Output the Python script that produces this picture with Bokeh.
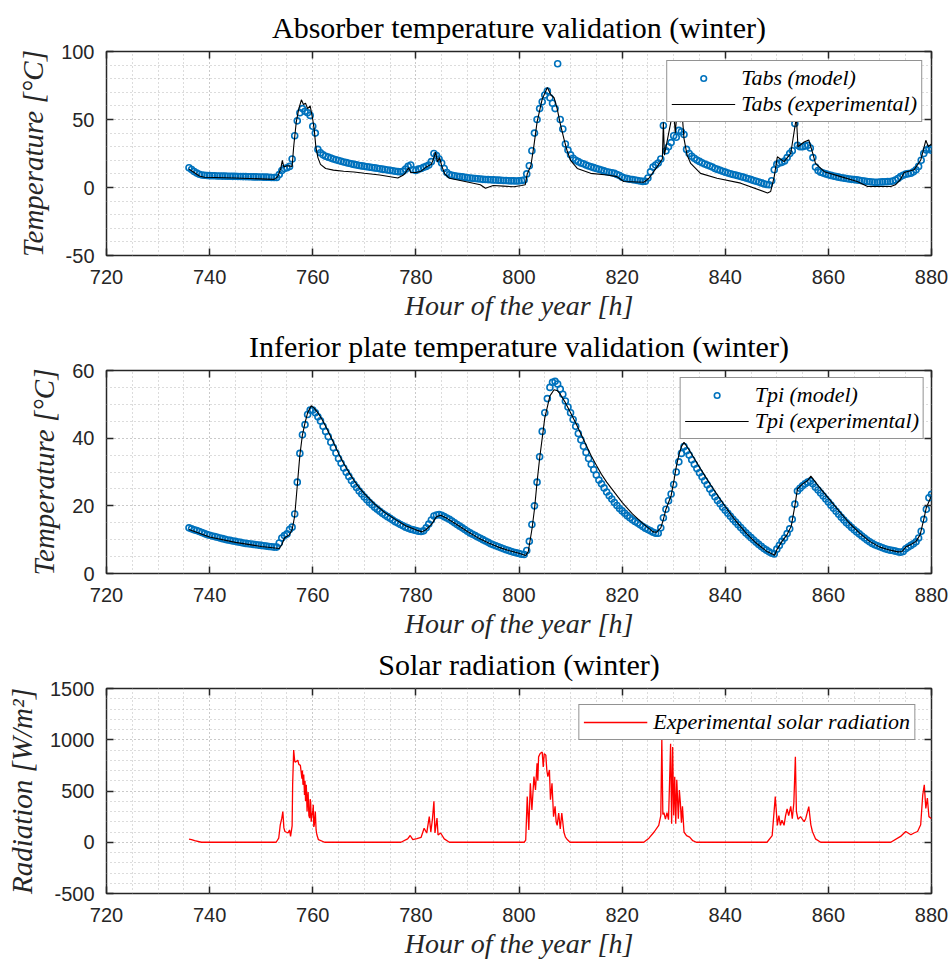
import numpy as np
from bokeh.plotting import figure
from bokeh.layouts import column
from bokeh.models import (SingleIntervalTicker, LinearAxis, Legend, LegendItem,
                          Range1d, Title, PrintfTickFormatter)
from bokeh.embed import file_html
from bokeh.resources import INLINE

# ---------------------------------------------------------------------------
# Data
# ---------------------------------------------------------------------------
# Model output is sampled every half hour starting at hour 736
model_start = 736.0
model_step = 0.5

# Absorber temperature, model [degC]
tabs_model = [
    14.5, 13.2, 11.8, 10.6, 9.7, 9.2, 9.0, 8.8,                      # 736
    8.7, 8.6, 8.6, 8.5, 8.5, 8.4, 8.4, 8.3, 8.3, 8.2,                # 740
    8.2, 8.1, 8.1, 8.0, 8.0, 7.9, 7.9, 7.8, 7.8, 7.7,                # 745
    7.7, 7.6, 7.6, 7.5, 7.4, 7.3, 7.4, 9.5, 12.5, 14.0, 14.5, 15.5,  # 750
    21.0, 38.0, 49.0, 55.0, 58.0, 56.0, 55.0, 53.0, 45.0, 40.0, 28.0, 25.5,  # 756
    24.0, 23.0, 22.3, 21.6, 21.0, 20.4, 19.8, 19.3, 18.8, 18.3, 17.8, 17.4,  # 762
    17.0, 16.6, 16.2, 15.9, 15.6, 15.3, 15.0, 14.7, 14.4, 14.1, 13.8, 13.5,  # 768
    13.2, 12.9, 12.6, 12.3, 12.0, 11.7, 11.5, 12.0, 13.5, 15.5, 16.5, 13.0,  # 774
    12.5, 13.5, 14.0, 14.8, 15.5, 16.5, 19.0, 25.0, 23.5, 21.0, 18.0, 14.0,  # 780
    11.0, 9.5, 9.0, 8.6, 8.3, 8.0, 7.8, 7.5, 7.2, 7.0, 6.8, 6.6,             # 786
    6.4, 6.2, 6.0, 5.9, 5.8, 5.7, 5.6, 5.5, 5.4, 5.3, 5.2, 5.1,              # 792
    5.0, 4.9, 4.9, 4.8, 4.9, 5.2, 5.5, 10.0, 16.0, 27.0, 40.0, 50.0,         # 798
    58.0, 63.0, 68.0, 71.0, 66.0, 62.0, 58.0, 91.0, 50.0, 43.0, 32.0, 27.5,  # 804
    24.0, 21.5, 20.0, 19.0, 18.0, 17.5, 16.5, 15.8, 15.2, 14.6, 14.0, 13.4,  # 810
    12.8, 12.2, 11.6, 11.2, 10.8, 10.4, 9.6, 8.8, 7.6, 7.0, 6.5, 6.1,        # 816
    5.8, 5.5, 5.1, 4.8, 4.5, 4.6, 7.0, 11.5, 15.0, 16.5, 18.0, 21.0,         # 822
    45.6, 27.0, 30.0, 33.0, 38.0, 37.0, 42.0, 41.0, 39.0, 28.0, 25.0, 23.0,  # 828
    21.5, 20.2, 19.2, 18.2, 17.3, 16.5, 15.8, 15.1, 14.0, 13.3, 12.6, 11.9,  # 834
    11.3, 10.7, 10.1, 9.6, 9.1, 8.6, 8.1, 7.6, 7.0, 6.4, 5.8, 5.2,           # 840
    4.6, 4.0, 3.4, 2.8, 2.2, 2.0, 5.0, 13.0, 17.0, 18.0, 18.5, 19.5,         # 846
    22.0, 25.0, 27.0, 47.0, 31.0, 30.0, 30.0, 30.5, 31.0, 29.0, 22.0, 15.0,  # 852
    12.5, 11.3, 10.6, 10.0, 9.4, 8.9, 8.4, 8.0, 7.6, 7.2, 6.9, 6.6,          # 858
    6.3, 6.0, 5.8, 5.6, 5.3, 5.0, 4.7, 4.4, 4.2, 4.0, 3.9, 3.9,              # 864
    4.0, 4.1, 4.2, 4.3, 4.4, 4.8, 5.5, 6.6, 8.0, 9.0, 9.8, 10.2,             # 870
    10.5, 11.5, 13.0, 15.5, 20.0, 25.0, 27.5, 28.6, 27.4,                    # 876
]

# Absorber temperature, measured (hour, degC)
tabs_exp_points = [
    (736.0, 13.5), (737.0, 11.0), (738.0, 8.5), (739.0, 7.5), (745.0, 7.0),
    (752.5, 6.0), (753.2, 8.0), (753.8, 14.0), (754.1, 20.0), (754.4, 15.0),
    (755.0, 16.0), (756.0, 15.5), (756.3, 30.0), (756.8, 48.0), (757.3, 58.0),
    (757.8, 64.5), (758.2, 61.0), (758.6, 62.0), (759.0, 58.0), (759.5, 60.0),
    (760.0, 50.0), (760.3, 42.0), (760.6, 30.0), (761.0, 22.0), (761.5, 17.0),
    (762.5, 14.0), (764.0, 12.8), (766.0, 12.0), (768.0, 11.4), (770.0, 10.5),
    (773.0, 9.2), (776.5, 7.0), (777.5, 9.0), (778.0, 11.0), (778.6, 14.5),
    (779.0, 11.0), (780.0, 11.0), (781.0, 12.0), (782.0, 15.0), (783.0, 17.0),
    (783.5, 22.0), (783.8, 26.0), (784.2, 19.0), (784.6, 22.0), (785.0, 16.0),
    (785.6, 10.0), (786.5, 6.8), (790.0, 4.0), (792.5, 2.0), (793.5, -0.5),
    (795.0, 1.5), (797.0, 1.0), (799.0, 0.5), (800.5, 1.5), (801.2, 2.0),
    (801.6, 10.0), (802.3, 16.0), (802.9, 31.0), (803.5, 48.0), (804.5, 65.0),
    (805.5, 73.5), (806.2, 68.0), (806.8, 66.0), (807.4, 58.0), (808.0, 47.0),
    (808.7, 36.0), (809.3, 27.4), (810.0, 20.0), (811.3, 14.0), (813.9, 10.4),
    (817.1, 9.2), (819.0, 8.0), (820.3, 4.4), (824.2, 3.9), (825.2, 6.8),
    (826.8, 15.3), (827.8, 21.0), (828.0, 48.0), (828.2, 23.8), (828.7, 33.5),
    (829.7, 53.0), (830.0, 57.0), (830.3, 40.0), (830.7, 58.0), (831.3, 48.0),
    (831.6, 56.0), (832.0, 36.0), (832.6, 23.8), (833.3, 17.7), (835.2, 10.4),
    (838.4, 6.8), (843.0, 3.2), (848.2, -4.0), (848.8, -3.0), (849.5, 8.0),
    (850.1, 22.6), (851.4, 19.0), (852.7, 25.0), (853.8, 51.7), (854.1, 30.0),
    (855.3, 33.5), (856.2, 35.0), (856.9, 26.0), (857.5, 17.7), (859.2, 11.6),
    (862.4, 8.0), (865.6, 4.4), (867.6, 0.7), (872.1, 0.7), (873.0, 2.0),
    (874.0, 6.0), (874.7, 11.0), (876.6, 13.0), (877.9, 20.0), (878.9, 34.7),
    (879.4, 30.0), (880.0, 32.0),
]

# Inferior plate temperature, model [degC]
tpi_model = [
    13.5, 13.2, 12.9, 12.7, 12.4, 12.1, 11.8, 11.5,                  # 736
    11.3, 11.1, 10.9, 10.7, 10.5, 10.3, 10.1, 9.9, 9.8, 9.6,         # 740
    9.5, 9.3, 9.2, 9.0, 8.9, 8.8, 8.7, 8.6, 8.5, 8.4,                # 745
    8.3, 8.2, 8.1, 8.0, 7.9, 7.8, 7.8, 9.0, 10.5, 11.2, 11.7, 13.0,  # 750
    13.7, 17.6, 27.0, 35.5, 41.0, 44.0, 47.0, 48.3, 48.3, 47.5, 46.3, 45.1,  # 756
    43.5, 42.0, 40.5, 38.8, 37.2, 35.6, 34.0, 32.6, 31.2, 29.9, 28.7, 27.5,  # 762
    26.4, 25.4, 24.4, 23.5, 22.6, 21.8, 21.0, 20.3, 19.6, 19.0, 18.4, 17.8,  # 768
    17.3, 16.8, 16.3, 15.8, 15.3, 14.9, 14.5, 14.1, 13.7, 13.4, 13.1, 12.9,  # 774
    12.7, 12.5, 12.4, 12.6, 13.5, 14.6, 15.8, 17.0, 17.3, 17.4, 17.2, 16.8,  # 780
    16.4, 16.0, 15.5, 15.0, 14.5, 14.0, 13.5, 13.0, 12.5, 12.0, 11.6, 11.2,  # 786
    10.8, 10.4, 10.0, 9.6, 9.2, 8.8, 8.5, 8.2, 7.9, 7.6, 7.3, 7.0,           # 792
    6.8, 6.5, 6.3, 6.1, 5.9, 5.7, 5.6, 6.8, 9.5, 14.5, 20.0, 27.0,           # 798
    34.5, 42.0, 47.5, 51.7, 55.0, 56.5, 56.8, 56.0, 54.5, 53.0, 51.0, 49.2,  # 804
    47.5, 45.5, 43.5, 41.4, 39.5, 37.6, 35.8, 34.0, 32.3, 30.7, 29.1, 27.6,  # 810
    26.5, 25.3, 24.1, 23.0, 22.0, 21.0, 20.1, 19.2, 18.5, 17.8, 17.1, 16.5,  # 816
    15.9, 15.4, 14.9, 14.4, 13.9, 13.4, 13.0, 12.6, 12.2, 11.9, 11.9, 13.5,  # 822
    16.5, 19.0, 21.5, 23.5, 26.3, 30.0, 33.0, 35.5, 37.5, 36.3, 35.0, 33.6,  # 828
    32.3, 31.0, 29.8, 28.6, 27.4, 26.2, 25.0, 23.8, 22.7, 21.6, 20.6, 19.6,  # 834
    18.7, 17.8, 16.9, 16.0, 15.2, 14.4, 13.6, 12.8, 12.0, 11.3, 10.6, 9.9,   # 840
    9.2, 8.6, 8.0, 7.4, 6.9, 6.4, 6.0, 5.8, 7.2, 8.3, 9.5, 10.5,             # 846
    11.8, 13.2, 16.0, 20.5, 24.4, 25.2, 25.9, 26.5, 27.0, 27.3, 26.5, 25.5,  # 852
    24.7, 23.8, 22.9, 22.0, 21.1, 20.2, 19.3, 18.4, 17.5, 16.6, 15.8, 15.0,  # 858
    14.3, 13.6, 12.9, 12.3, 11.7, 11.1, 10.5, 9.9, 9.4, 8.9, 8.5, 8.2,       # 864
    7.9, 7.6, 7.3, 7.1, 6.9, 6.8, 6.6, 6.4, 6.3, 6.5, 7.3, 7.8,              # 870
    8.3, 8.8, 9.4, 10.5, 12.5, 16.0, 19.0, 22.4, 23.4,                       # 876
]

# Inferior plate temperature, measured (hour, degC)
tpi_exp_points = [
    (736.0, 13.0), (740.0, 10.8), (745.0, 9.2), (750.0, 8.0), (753.5, 7.4),
    (754.0, 8.5), (754.5, 10.5), (755.5, 11.5), (756.0, 13.0), (756.5, 17.0),
    (757.0, 26.0), (757.5, 35.0), (758.0, 41.0), (758.5, 44.5), (759.0, 47.5),
    (759.7, 49.6), (760.3, 48.8), (761.0, 47.5), (762.0, 45.0), (763.0, 42.0),
    (764.0, 38.8), (765.0, 35.5), (766.0, 32.5), (767.0, 29.9), (768.0, 27.5),
    (769.0, 25.4), (770.0, 23.6), (772.0, 20.5), (774.0, 18.0), (776.0, 16.0),
    (778.0, 14.1), (780.0, 12.9), (781.2, 12.3), (782.0, 13.0), (783.0, 14.5),
    (784.0, 16.8), (784.8, 17.2), (786.0, 16.3), (788.0, 14.4), (790.0, 12.4),
    (792.0, 10.6), (794.0, 9.1), (796.0, 7.8), (798.0, 6.8), (800.0, 6.0),
    (801.3, 5.3), (801.8, 6.5), (802.5, 13.0), (803.0, 19.0), (803.5, 27.0),
    (804.0, 34.0), (805.0, 46.0), (806.0, 52.5), (806.8, 54.3), (807.5, 54.0),
    (808.0, 53.0), (809.0, 50.5), (810.0, 47.5), (811.0, 44.5), (812.0, 41.3),
    (813.0, 38.0), (814.0, 34.8), (815.0, 32.0), (816.0, 29.3), (817.0, 27.0),
    (818.0, 25.0), (819.0, 23.0), (820.0, 21.0), (822.0, 17.6), (824.0, 14.8),
    (826.0, 12.3), (826.7, 12.2), (827.5, 13.5), (828.0, 16.0), (828.5, 19.0),
    (829.0, 21.0), (829.5, 23.0), (830.0, 27.0), (830.5, 31.5), (831.0, 35.0),
    (831.5, 37.5), (832.0, 38.8), (833.0, 36.5), (834.0, 34.0), (835.0, 31.5),
    (836.0, 29.0), (837.0, 26.6), (838.0, 24.3), (839.0, 22.0), (840.0, 19.8),
    (842.0, 15.6), (844.0, 12.0), (846.0, 9.0), (848.0, 6.6), (849.6, 5.4),
    (850.0, 7.0), (851.0, 9.5), (852.0, 11.5), (852.8, 14.0), (853.5, 20.0),
    (854.0, 25.0), (855.0, 26.5), (856.0, 27.5), (856.6, 28.8), (857.5, 27.0),
    (858.0, 26.0), (860.0, 22.3), (862.0, 18.6), (864.0, 15.0), (866.0, 12.0),
    (868.0, 9.5), (870.0, 7.8), (872.0, 6.9), (873.5, 6.4), (874.3, 6.5),
    (875.0, 7.8), (876.0, 8.6), (877.0, 9.5), (877.8, 11.5), (878.5, 16.0),
    (879.0, 19.5), (880.0, 23.0),
]

# Measured solar radiation (hour, W/m2)
rad_points = [
    (736.0, 30), (736.5, 25), (737.1, 15), (738.4, 0), (752.9, 0), (753.4, 40),
    (753.7, 170), (754.0, 235), (754.2, 300), (754.4, 140), (754.6, 105),
    (755.2, 90), (755.5, 120), (755.7, 57), (756.0, 160), (756.1, 560),
    (756.3, 900), (756.5, 790), (756.6, 780), (757.1, 800), (757.3, 760),
    (757.6, 750), (757.9, 620), (758.0, 700), (758.1, 560), (758.25, 660),
    (758.4, 460), (758.5, 600), (758.6, 400), (758.75, 560), (758.9, 300),
    (759.0, 420), (759.1, 490), (759.25, 260), (759.4, 235), (759.5, 420),
    (759.6, 390), (759.7, 200), (759.8, 250), (760.0, 300), (760.1, 365),
    (760.2, 150), (760.3, 170), (760.5, 300), (760.65, 120), (760.8, 73),
    (761.1, 25), (762.3, 0), (777.1, 0), (778.4, 33), (778.9, 66), (779.4, 25),
    (780.2, 35), (781.0, 47), (781.6, 137), (782.1, 90), (782.6, 250),
    (782.9, 100), (783.2, 220), (783.5, 400), (783.7, 90), (784.1, 235),
    (784.3, 70), (784.8, 90), (785.5, 33), (786.5, 0), (801.0, 0), (801.3, 20),
    (801.6, 445), (801.9, 120), (802.2, 575), (802.5, 315), (802.9, 640),
    (803.2, 510), (803.5, 770), (803.65, 600), (803.8, 833), (804.1, 865),
    (804.5, 880), (804.7, 735), (804.9, 865), (805.2, 850), (805.4, 700),
    (805.6, 640), (805.9, 705), (806.1, 415), (806.4, 575), (806.7, 250),
    (807.0, 350), (807.2, 200), (807.4, 165), (807.7, 285), (808.0, 130),
    (808.3, 285), (808.7, 100), (809.0, 50), (809.3, 30), (809.9, 0),
    (824.2, 0), (825.2, 40), (826.2, 100), (827.1, 165), (827.5, 260),
    (827.7, 1010), (827.9, 270), (828.1, 290), (828.4, 225), (828.7, 290),
    (829.0, 220), (829.4, 960), (829.6, 180), (829.8, 930), (830.0, 260),
    (830.2, 640), (830.4, 180), (830.6, 610), (830.9, 230), (831.1, 510),
    (831.3, 380), (831.5, 190), (831.7, 350), (832.0, 100), (832.5, 65),
    (833.1, 50), (833.7, 15), (834.4, 0), (848.1, 0), (849.1, 65), (849.7, 445),
    (850.1, 165), (850.4, 260), (850.7, 165), (851.0, 215), (851.4, 165),
    (851.7, 260), (852.0, 325), (852.3, 260), (852.7, 350), (853.0, 230),
    (853.3, 380), (853.6, 835), (853.8, 300), (854.1, 225), (854.6, 250),
    (855.3, 200), (855.6, 230), (856.2, 348), (856.6, 170), (856.9, 105),
    (857.5, 33), (858.5, 0), (872.1, 0), (874.0, 57), (875.0, 105), (876.0, 73),
    (876.6, 90), (877.3, 105), (877.9, 170), (878.3, 460), (878.6, 560),
    (878.9, 330), (879.2, 430), (879.5, 250), (879.9, 235), (880.0, 230),
]

# Axis limits and tick spacing
x_limits = (720, 880)
x_tick_step = 20
tabs_limits = (-50, 100)
tabs_tick_step = 50
tpi_limits = (0, 60)
tpi_tick_step = 20
rad_limits = (-500, 1500)
rad_tick_step = 500

# ---------------------------------------------------------------------------
# Styling helpers
# ---------------------------------------------------------------------------
BLUE = "#0072BD"
RED = "#FF0000"
AXIS = "#262626"
GRID = "#b9b9b9"
SERIF = "Liberation Serif"
SANS = "Liberation Sans"
X_LABEL = "Hour of the year [h]"


def make_panel(title, ylabel, ylim, ystep, yminor, height, top, bottom):
    p = figure(width=948, height=height, output_backend="svg",
               toolbar_location=None, title=None,
               x_range=Range1d(*x_limits), y_range=Range1d(*ylim),
               min_border_left=106, min_border_right=17,
               min_border_top=top, min_border_bottom=bottom)
    p.background_fill_color = "white"
    p.border_fill_color = "white"
    p.outline_line_color = AXIS
    p.outline_line_width = 1.5

    xt = SingleIntervalTicker(interval=x_tick_step, num_minor_ticks=4)
    yt = SingleIntervalTicker(interval=ystep, num_minor_ticks=yminor)
    p.xaxis.ticker = xt
    p.yaxis.ticker = yt
    p.yaxis.formatter = PrintfTickFormatter(format="%d")
    p.xgrid.ticker = xt
    p.ygrid.ticker = yt
    for g in (p.xgrid, p.ygrid):
        g.grid_line_color = GRID
        g.grid_line_dash = "1 3"
        g.grid_line_width = 1
        g.minor_grid_line_color = GRID
        g.minor_grid_line_dash = "1 3"
        g.minor_grid_line_width = 1

    for ax in (p.xaxis, p.yaxis):
        ax.axis_line_color = None
        ax.major_tick_in = 7
        ax.major_tick_out = 0
        ax.major_tick_line_color = AXIS
        ax.major_tick_line_width = 1.5
        ax.minor_tick_line_color = None
        ax.major_label_text_font = SANS
        ax.major_label_text_font_size = "20px"
        ax.major_label_text_color = AXIS
        ax.axis_label_text_font = SERIF
        ax.axis_label_text_font_style = "italic"
        ax.axis_label_text_color = AXIS
    p.xaxis.axis_label_text_font_size = "28px"
    p.yaxis.axis_label_text_font_size = "29px"
    p.xaxis.axis_label = X_LABEL
    p.yaxis.axis_label = ylabel
    p.xaxis.major_label_standoff = 10
    p.xaxis.axis_label_standoff = 3
    p.yaxis.major_label_standoff = 8
    p.yaxis.axis_label_standoff = 9

    # tick marks on the opposite sides of the box, without labels
    for loc, tk in (("right", yt), ("above", xt)):
        ax = LinearAxis(ticker=tk)
        ax.axis_line_color = None
        ax.major_tick_in = 7
        ax.major_tick_out = 0
        ax.major_tick_line_color = AXIS
        ax.major_tick_line_width = 1.5
        ax.minor_tick_line_color = None
        ax.major_label_text_font_size = "1px"
        ax.major_label_text_color = None
        ax.major_label_standoff = 0
        p.add_layout(ax, loc)

    p.add_layout(Title(text=title, align="center", text_font=SERIF,
                       text_font_size="30px", text_font_style="normal",
                       text_color="black", standoff=8), "above")
    return p


def make_legend(items, margin):
    lg = Legend(items=items, location="top_right", margin=margin,
                label_text_font=SERIF, label_text_font_style="italic",
                label_text_font_size="22px", label_text_color="black",
                glyph_width=64, glyph_height=14, label_standoff=6,
                label_height=24, padding=4, spacing=0,
                border_line_color=AXIS, border_line_width=1,
                background_fill_color="white", background_fill_alpha=1.0)
    return lg


# ---------------------------------------------------------------------------
# Absorber temperature
# ---------------------------------------------------------------------------
tabs_hours = model_start + model_step * np.arange(len(tabs_model))
p1 = make_panel("Absorber temperature validation (winter)", "Temperature [°C]",
                tabs_limits, tabs_tick_step, 5, 323, 51, 66)
r1m = p1.scatter(tabs_hours, tabs_model, marker="circle", size=6,
                 fill_color=None, line_color=BLUE, line_width=1.6)
r1e = p1.line([h for h, _ in tabs_exp_points], [v for _, v in tabs_exp_points],
              line_color="black", line_width=1.1)
p1.add_layout(make_legend([LegendItem(label="Tabs (model)", renderers=[r1m]),
                           LegendItem(label="Tabs (experimental)", renderers=[r1e])], 9))

# ---------------------------------------------------------------------------
# Inferior plate temperature
# ---------------------------------------------------------------------------
tpi_hours = model_start + model_step * np.arange(len(tpi_model))
p2 = make_panel("Inferior plate temperature validation (winter)", "Temperature [°C]",
                tpi_limits, tpi_tick_step, 4, 318, 47, 66)
r2m = p2.scatter(tpi_hours, tpi_model, marker="circle", size=6,
                 fill_color=None, line_color=BLUE, line_width=1.6)
r2e = p2.line([h for h, _ in tpi_exp_points], [v for _, v in tpi_exp_points],
              line_color="black", line_width=1.1)
p2.add_layout(make_legend([LegendItem(label="Tpi (model)", renderers=[r2m]),
                           LegendItem(label="Tpi (experimental)", renderers=[r2e])], 7))

# ---------------------------------------------------------------------------
# Solar radiation
# ---------------------------------------------------------------------------
p3 = make_panel("Solar radiation (winter)", "Radiation [W/m²]",
                rad_limits, rad_tick_step, 5, 320, 47, 67)
r3 = p3.line([h for h, _ in rad_points], [v for _, v in rad_points],
             line_color=RED, line_width=1.3)
p3.add_layout(make_legend([LegendItem(label="Experimental solar radiation",
                                      renderers=[r3])], 16))

layout = column(p1, p2, p3, spacing=0)
open("out.html", "w").write(file_html(layout, INLINE))
